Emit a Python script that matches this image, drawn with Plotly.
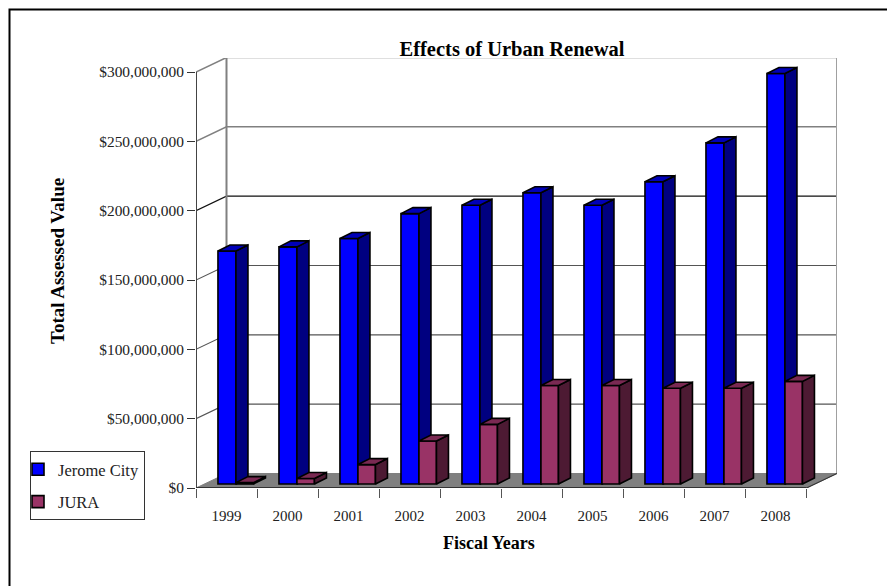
import plotly.graph_objects as go

# Data
years = ["1999", "2000", "2001", "2002", "2003", "2004", "2005", "2006", "2007", "2008"]
jerome_city = [168e6, 171e6, 177e6, 195e6, 201e6, 210e6, 201e6, 218e6, 246e6, 296e6]
jura = [1e6, 4e6, 14e6, 31e6, 43e6, 71e6, 71e6, 69e6, 69e6, 74e6]
y_ticks = [0, 50e6, 100e6, 150e6, 200e6, 250e6, 300e6]
y_tick_labels = ["$0", "$50,000,000", "$100,000,000", "$150,000,000",
                 "$200,000,000", "$250,000,000", "$300,000,000"]

# Geometry / style
W, H = 887, 586
L, R, T, B = 196, 837, 58, 488
UNIT_X = 61.0
UNIT_Y = 416.0 / 300e6
XMAX = (R - L) / UNIT_X
YMAX = (B - T) / UNIT_Y
WALL_DX = 30.5 / UNIT_X
WALL_DY = 14.5 / UNIT_Y
BAR_BASE = 4 / UNIT_Y
BAR_DX = 12 / UNIT_X
BAR_DY = 6 / UNIT_Y
FONT = "Liberation Serif"
GREY = "#808080"
xpos = [i + 0.5 for i in range(len(years))]
grid_colors = ["#808080", "#555555", "#555555", "#555555", "#111111", "#808080", "#808080"]


def px(x):
    return (x - L) / (R - L)


def py(y):
    return (B - y) / (B - T)


def poly(name, xs, ys, fill, axes):
    fig.add_trace(go.Scatter(x=xs, y=ys, mode="lines", fill="toself", fillcolor=fill,
                             line=dict(color="black", width=1.6), hoverinfo="skip",
                             showlegend=False, name=name, cliponaxis=False,
                             xaxis=axes[0], yaxis=axes[1]))


def faces(values, left, width, side, top, axes):
    sx, sy, tx, ty = [], [], [], []
    for x, v in zip(xpos, values):
        a = x + left
        b = a + width
        h = BAR_BASE + v
        sx += [b, b + BAR_DX, b + BAR_DX, b, b, None]
        sy += [BAR_BASE, BAR_BASE + BAR_DY, h + BAR_DY, h, BAR_BASE, None]
        tx += [a, a + BAR_DX, b + BAR_DX, b, a, None]
        ty += [h, h + BAR_DY, h + BAR_DY, h, h, None]
    poly("side", sx, sy, side, axes)
    poly("top", tx, ty, top, axes)


fig = go.Figure()

# Floor
fig.add_trace(go.Scatter(x=[0, WALL_DX, XMAX, XMAX - WALL_DX, 0], y=[0, WALL_DY, WALL_DY, 0, 0],
                         mode="lines", fill="toself", fillcolor=GREY, line=dict(color=GREY, width=1),
                         hoverinfo="skip", showlegend=False, cliponaxis=False))
# Gridlines with their slanted side-wall part
for v, c in zip(y_ticks[1:], grid_colors[1:]):
    fig.add_trace(go.Scatter(x=[0, WALL_DX, XMAX], y=[v, v + WALL_DY, v + WALL_DY], mode="lines",
                             line=dict(color=c, width=1.5 if c == GREY else 1.1),
                             hoverinfo="skip", showlegend=False, cliponaxis=False))
# Walls and axes
wall_lines = [
    ([WALL_DX, WALL_DX], [WALL_DY, YMAX], GREY, 2),
    ([XMAX, XMAX], [WALL_DY, YMAX], "#A0A0A0", 2),
    ([XMAX - WALL_DX, XMAX], [0, WALL_DY], "#333333", 1.1),
    ([0, 0], [0, 300e6], "#444444", 2),
    ([0, XMAX - WALL_DX], [0, 0], "#333333", 2),
]
for xs, ys, c, w in wall_lines:
    fig.add_trace(go.Scatter(x=xs, y=ys, mode="lines", line=dict(color=c, width=w),
                             hoverinfo="skip", showlegend=False, cliponaxis=False))

# Jerome City (over the walls)
BLUE_LEFT, BLUE_W = -0.14, 0.295
faces(jerome_city, BLUE_LEFT, BLUE_W, "#000080", "#0000B8", ("x2", "y2"))
fig.add_trace(go.Bar(x=xpos, y=jerome_city, base=BAR_BASE, offset=BLUE_LEFT, width=BLUE_W,
                     name="Jerome City", legendgroup="a",
                     marker=dict(color="#0000FF", line=dict(color="black", width=1.6)),
                     xaxis="x2", yaxis="y2"))

# JURA (over Jerome City)
JURA_LEFT, JURA_W = 0.155, 0.287
faces(jura, JURA_LEFT, JURA_W, "#4D1A33", "#7A2952", ("x3", "y3"))
fig.add_trace(go.Bar(x=xpos, y=jura, base=BAR_BASE, offset=JURA_LEFT, width=JURA_W,
                     name="JURA", legendgroup="b",
                     marker=dict(color="#993366", line=dict(color="black", width=1.6)),
                     xaxis="x3", yaxis="y3"))

hidden = dict(range=[0, XMAX], visible=False, overlaying="x")
hidden_y = dict(range=[0, YMAX], visible=False, overlaying="y")

fig.update_layout(
    width=W, height=H, autosize=False, margin=dict(l=L, r=W - R, t=T, b=H - B, autoexpand=False),
    paper_bgcolor="white", plot_bgcolor="white", barmode="overlay",
    font=dict(family=FONT, size=15, color="#222222"),
    title=dict(text="<b>Effects of Urban Renewal</b>", x=512 / W, y=1 - 49 / H, xanchor="center",
               yanchor="middle", font=dict(family=FONT, size=20.5, color="black")),
    xaxis=dict(range=[0, XMAX], tickmode="array", tickvals=xpos, ticktext=years, ticks="outside",
               ticklen=14, tickcolor="rgba(0,0,0,0)", showgrid=False, zeroline=False, showline=False,
               tickfont=dict(family=FONT, size=15),
               minor=dict(tickmode="array", tickvals=list(range(len(years) + 1)), ticks="outside",
                          ticklen=9, tickcolor="#555555", tickwidth=1, showgrid=False)),
    yaxis=dict(range=[0, YMAX], tickmode="array", tickvals=y_ticks, ticktext=y_tick_labels,
               ticks="outside", ticklen=8, tickcolor="#333333", tickwidth=1, showgrid=False,
               zeroline=False, showline=False, tickfont=dict(family=FONT, size=15.4)),
    xaxis2=hidden, yaxis2=hidden_y, xaxis3=hidden, yaxis3=hidden_y,
    legend=dict(x=px(30), y=py(451), xanchor="left", yanchor="top", bordercolor="#333333",
                borderwidth=1, bgcolor="white", font=dict(family=FONT, size=16.5, color="#222222"),
                traceorder="grouped", tracegroupgap=8, indentation=-13, itemwidth=30),
    shapes=[dict(type="rect", xref="paper", yref="paper", x0=px(9.5), x1=px(895), y0=py(595), y1=py(9.5),
                 line=dict(color="black", width=2), layer="below")],
    annotations=[
        dict(text="<b>Total Assessed Value</b>", xref="paper", yref="paper", x=px(57), y=py(261),
             textangle=-90, showarrow=False, xanchor="center", yanchor="middle",
             font=dict(family=FONT, size=19, color="black")),
        dict(text="<b>Fiscal Years</b>", xref="paper", yref="paper", x=px(489), y=py(543),
             showarrow=False, xanchor="center", yanchor="middle",
             font=dict(family=FONT, size=18, color="black")),
    ],
)

fig.write_html("out.html", config=dict(displayModeBar=False),
               post_script="document.body.style.margin='0';")
